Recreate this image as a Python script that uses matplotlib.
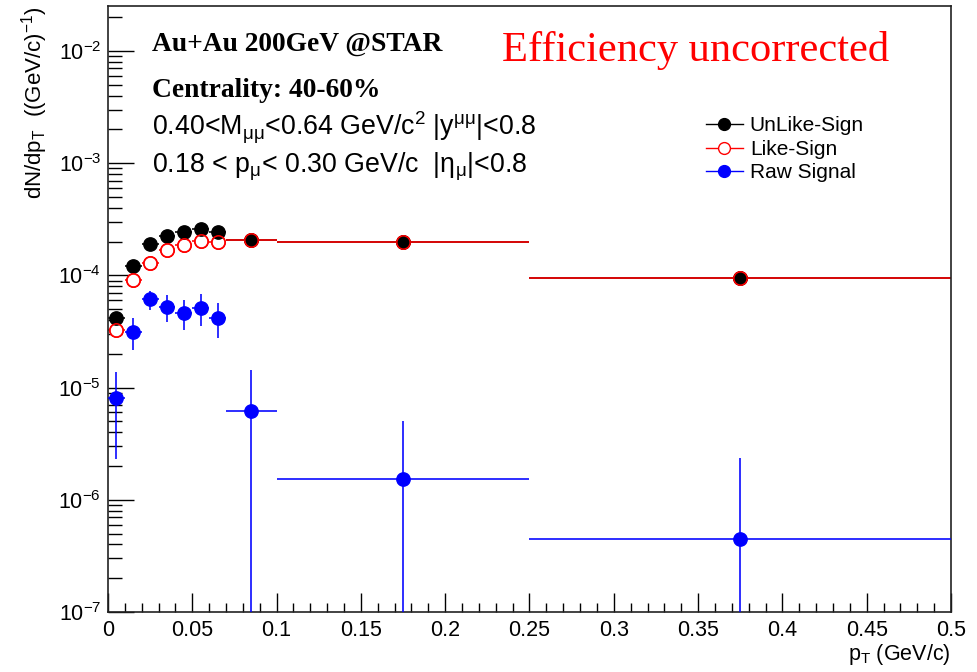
import numpy as np
import matplotlib
matplotlib.use("Agg")
import matplotlib.pyplot as plt
from matplotlib.ticker import MultipleLocator, LogLocator, FixedLocator, FuncFormatter, NullFormatter
from matplotlib.lines import Line2D

plt.rcParams["font.family"] = ["Liberation Sans", "DejaVu Sans"]
plt.rcParams["mathtext.fontset"] = "custom"
plt.rcParams["mathtext.rm"] = "Liberation Sans"
plt.rcParams["mathtext.it"] = "Liberation Sans:italic"
plt.rcParams["mathtext.bf"] = "Liberation Sans:bold"
plt.rcParams["mathtext.default"] = "regular"

# pT bin edges (GeV/c)
bin_edges = [0.0, 0.01, 0.02, 0.03, 0.04, 0.05, 0.06, 0.07, 0.10, 0.25, 0.50]

# dN/dpT per bin
unlike_sign = [4.15e-5, 1.22e-4, 1.89e-4, 2.25e-4, 2.42e-4, 2.58e-4, 2.43e-4, 2.07e-4, 1.97e-4, 9.54e-5]
unlike_err = [2.0e-6, 3.5e-6, 4.5e-6, 5.0e-6, 5.5e-6, 5.5e-6, 5.5e-6, 3.5e-6, 1.5e-6, 7.0e-7]
like_sign = [3.26e-5, 9.10e-5, 1.28e-4, 1.68e-4, 1.87e-4, 2.02e-4, 1.97e-4, 2.07e-4, 1.97e-4, 9.54e-5]
like_err = [2.0e-6, 3.0e-6, 3.5e-6, 4.0e-6, 4.5e-6, 4.5e-6, 4.5e-6, 3.5e-6, 1.5e-6, 7.0e-7]
raw_signal = [8.1e-6, 3.15e-5, 6.11e-5, 5.26e-5, 4.66e-5, 5.16e-5, 4.21e-5, 6.18e-6, 1.53e-6, 4.48e-7]
raw_err = [5.8e-6, 1.0e-5, 1.2e-5, 1.45e-5, 1.4e-5, 1.6e-5, 1.45e-5, 8.2e-6, 3.5e-6, 1.9e-6]

x_ticks = [0, 0.05, 0.1, 0.15, 0.2, 0.25, 0.3, 0.35, 0.4, 0.45, 0.5]

edges = np.array(bin_edges)
centers = 0.5 * (edges[:-1] + edges[1:])
half_w = 0.5 * np.diff(edges)

fig = plt.figure(figsize=(9.78, 6.72), dpi=100)
ax = fig.add_axes([0.11043, 0.08929, 0.86196, 0.90179])
ax.set_yscale("log")

BLACK, RED, BLUE = "#000000", "#ff0000", "#0000ff"
ms = 9.6
lw = 1.15

# error bars first, then markers layered on top
ax.errorbar(centers, unlike_sign, yerr=unlike_err, xerr=half_w, fmt="none",
            ecolor=BLACK, elinewidth=lw, capsize=0, zorder=2)
ax.errorbar(centers, like_sign, yerr=like_err, xerr=half_w, fmt="none",
            ecolor=RED, elinewidth=lw, capsize=0, zorder=2.5)
ax.errorbar(centers, raw_signal, yerr=raw_err, xerr=half_w, fmt="none",
            ecolor=BLUE, elinewidth=lw, capsize=0, zorder=2.7)

ax.plot(centers, like_sign, ls="none", marker="o", ms=ms, mfc="white",
        mec=RED, mew=1.1, zorder=3)
ax.plot(centers, unlike_sign, ls="none", marker="o", ms=ms, mfc=BLACK,
        mec=BLACK, zorder=4)
ax.plot(centers, like_sign, ls="none", marker="o", ms=ms, mfc="none",
        mec=RED, mew=1.1, zorder=5)
ax.plot(centers, raw_signal, ls="none", marker="o", ms=ms, mfc=BLUE,
        mec=BLUE, zorder=6)

ax.set_xlim(0, 0.5)
ax.set_ylim(1e-7, 2.52e-2)

# axis ticks
ax.xaxis.set_major_locator(FixedLocator(x_ticks))
ax.xaxis.set_major_formatter(FuncFormatter(lambda v, p: f"{v:g}"))
ax.xaxis.set_minor_locator(MultipleLocator(0.01))
ax.yaxis.set_major_locator(LogLocator(base=10, numticks=20))
ax.yaxis.set_minor_locator(LogLocator(base=10, subs=np.arange(2, 10), numticks=20))
ax.yaxis.set_minor_formatter(NullFormatter())

ax.tick_params(axis="both", which="both", direction="in", top=False, right=False,
               width=1.0, colors="black", labelsize=15.5)
ax.tick_params(axis="x", which="major", length=13.7, pad=6)
ax.tick_params(axis="x", which="minor", length=6.8)
ax.tick_params(axis="y", which="major", length=18.7, pad=5)
ax.tick_params(axis="y", which="minor", length=10.0)
for s in ax.spines.values():
    s.set_linewidth(1.2)
    s.set_color("#222222")

ax.set_xlabel("p$_T$ (GeV/c)", fontsize=15.5, loc="right")
ax.xaxis.set_label_coords(1.0, -0.05)
ax.set_ylabel("dN/dp$_T$  ((GeV/c)$^{-1}$)", fontsize=16, loc="top")
ax.yaxis.set_label_coords(-0.069, 1.0)

# annotations
ax.text(0.0522, 0.9257, "Au+Au 200GeV @STAR", transform=ax.transAxes,
        family="Liberation Serif", fontweight="bold", fontsize=19.8, va="baseline")
ax.text(0.0522, 0.8498, "Centrality: 40-60%", transform=ax.transAxes,
        family="Liberation Serif", fontweight="bold", fontsize=19.8, va="baseline")
ax.text(0.0522, 0.787, r"0.40<M$_{μμ}$<0.64 GeV/c$^{2}$ |y$^{μμ}$|<0.8",
        transform=ax.transAxes, fontsize=19.3, va="baseline")
ax.text(0.0522, 0.726, r"0.18 < p$_{μ}$< 0.30 GeV/c  |η$_{μ}$|<0.8",
        transform=ax.transAxes, fontsize=19.3, va="baseline")
ax.text(0.4674, 0.909, "Efficiency uncorrected", transform=ax.transAxes,
        family="Liberation Serif", fontsize=30.6, color=RED, va="baseline")

handles = [
    Line2D([], [], color=BLACK, lw=1.0, marker="o", ms=8.5, mfc=BLACK, mec=BLACK),
    Line2D([], [], color=RED, lw=1.0, marker="o", ms=8.5, mfc="white", mec=RED),
    Line2D([], [], color=BLUE, lw=1.0, marker="o", ms=8.5, mfc=BLUE, mec=BLUE),
]
ax.legend(handles, ["UnLike-Sign", "Like-Sign", "Raw Signal"], loc="upper left",
          bbox_to_anchor=(0.709, 0.818), frameon=False, fontsize=15,
          handlelength=1.78, handletextpad=0.34, labelspacing=0.22,
          borderpad=0, borderaxespad=0)

fig.savefig("out.png", dpi=100)
